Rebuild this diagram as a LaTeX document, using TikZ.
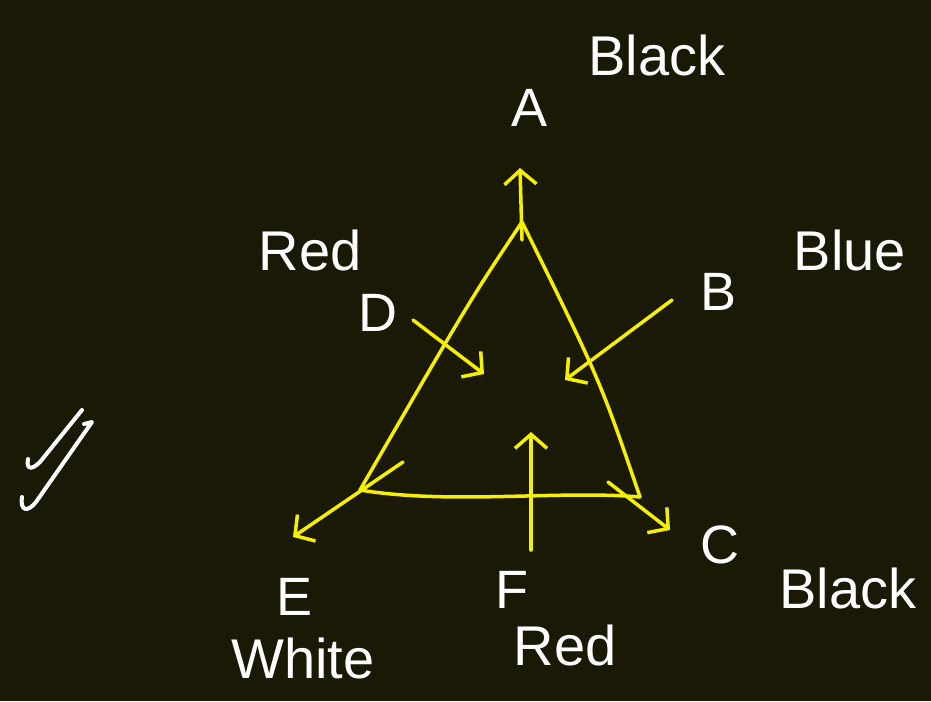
\documentclass[tikz,border=0pt]{standalone}
\usepackage{fontspec}
\setmainfont{Liberation Sans}
\usepackage{xcolor}
\usepackage{tikz}
\usetikzlibrary{arrows.meta}
\definecolor{boardbg}{HTML}{1A1905}
\definecolor{chalkyellow}{HTML}{F5EF00}

\tikzset{
  chalk/.style={draw=chalkyellow, line width=3.5pt, line cap=round, line join=round},
  pointer/.style={chalk, -{Straight Barb[length=14pt, width=32pt, line width=3.5pt]}},
  letter/.style={text=white, font=\fontsize{54}{58}\selectfont},
  colour/.style={text=white, font=\fontsize{56}{60}\selectfont}
}

\begin{document}
\begin{tikzpicture}[x=1pt, y=-1pt]
  \fill[boardbg] (0,0) rectangle (931,701);
  \useasboundingbox (0,0) rectangle (931,701);

  % corners of the triangle
  \coordinate (top) at (522,222);
  \coordinate (left) at (360,490);
  \coordinate (right) at (640,497);

  \draw[chalk] (top) .. controls (470,300) .. (left)
    .. controls (450,505) and (560,490) .. (right)
    .. controls (600,380) .. (top);

  % labels
  \node[letter] (A) at (530,108) {A};
  \node[colour] (blackA) at (657,55) {Black};
  \node[letter] (B) at (718,292) {B};
  \node[colour] (blue) at (850,250) {Blue};
  \node[letter] (C) at (720,545) {C};
  \node[colour] (blackC) at (848,588) {Black};
  \node[letter] (D) at (378,313) {D};
  \node[colour] (redD) at (310,250) {Red};
  \node[letter] (E) at (295,597) {E};
  \node[colour] (white) at (303,658) {White};
  \node[letter] (F) at (512,590) {F};
  \node[colour] (redF) at (565,645) {Red};

  % arrow ends
  \coordinate (atail) at (522,240);
  \coordinate (ahead) at (520,168);
  \coordinate (btail) at (672,300);
  \coordinate (bhead) at (565,380);
  \coordinate (ctail) at (608,482);
  \coordinate (chead) at (670,530);
  \coordinate (dtail) at (413,320);
  \coordinate (dhead) at (484,374);
  \coordinate (etail) at (403,462);
  \coordinate (ehead) at (293,537);
  \coordinate (ftail) at (531,550);
  \coordinate (fhead) at (531,432);

  \draw[pointer] (atail) -- (ahead);
  \draw[pointer] (btail) -- (bhead);
  \draw[pointer] (ctail) -- (chead);
  \draw[pointer] (dtail) -- (dhead);
  \draw[pointer] (etail) -- (ehead);
  \draw[pointer] (ftail) -- (fhead);

  % tick marks on the left
  \draw[white, line width=4pt, line cap=round, line join=round]
    (28,459) .. controls (26,470) and (32,470) .. (40,462) -- (82,410);
  \draw[white, line width=4pt, line cap=round, line join=round]
    (22,497) .. controls (20,512) and (28,512) .. (36,502) -- (92,422) -- (84,424);
\end{tikzpicture}
\end{document}
